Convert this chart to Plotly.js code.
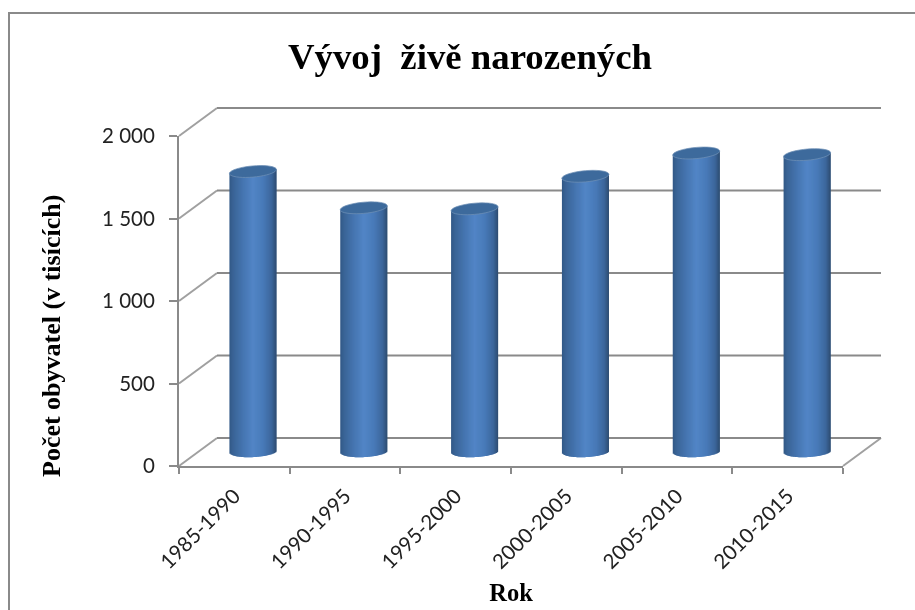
<!DOCTYPE html>
<html>
<head>
<meta charset="utf-8">
<script src="https://cdn.plot.ly/plotly-3.0.1.min.js"></script>
<style>html,body{margin:0;padding:0;background:#fff}#chart{width:915px;height:610px;filter:blur(0.35px)}</style>
</head>
<body>
<div id="chart"></div>
<script>
var categories = ['1985-1990','1990-1995','1995-2000','2000-2005','2005-2010','2010-2015'];
var births = [1697, 1477, 1471, 1668, 1809, 1799];
var tickValues = [0, 500, 1000, 1500, 2000];
var tickLabels = ['0', '500', '1 000', '1 500', '2 000'];
var chartTitle = 'Vývoj\u00a0 živě narozených';
var yTitle = 'Počet obyvatel (v tisících)';
var xTitle = 'Rok';

var W = 915, H = 610;
var frontL = 179, frontR = 843, frontB = 466, frontT = 136;
var depthX = 38, depthY = 28;
var barL = 197.5, barR = 862.5, barZero = 451.5;
var pxPerUnit = (frontB - frontT) / 2000;
var barBottomPad = 100;
var barDomainBottom = barZero + barBottomPad * pxPerUnit;
var barDomainTop = barZero - 2000 * pxPerUnit;
var barPx = 47, catPx = (barR - barL) / 6, ry = 5.6, baseTilt = 1.2, capTilt = 2;

function px(x){ return x / W; }
function py(y){ return 1 - y / H; }
function hex(c){ return 'rgb(' + c.map(Math.round).join(',') + ')'; }
var stops = [[0,[50,88,134]],[0.08,[58,100,150]],[0.3,[70,118,178]],[0.5,[82,133,198]],[0.72,[72,122,184]],[0.9,[60,102,155]],[1,[46,76,112]]];
function shade(t){
  for (var i = 1; i < stops.length; i++) {
    if (t <= stops[i][0]) {
      var a = stops[i-1], b = stops[i], f = (t - a[0]) / (b[0] - a[0]);
      return hex(a[1].map(function(v, k){ return v + (b[1][k] - v) * f; }));
    }
  }
  return hex(stops[stops.length-1][1]);
}

var traces = [{
  type: 'scatter', mode: 'markers', x: categories, y: births, xaxis: 'x', yaxis: 'y',
  marker: {opacity: 0}, showlegend: false, hoverinfo: 'skip', name: 'Živě narození'
}];
for (var s = 0; s < barPx; s++) {
  (function(s){
    var t = (s + 0.5) / barPx, u = 2 * t - 1;
    var below = ry * Math.sqrt(1 - u * u) - baseTilt * u;
    var baseUnits = -below / pxPerUnit;
    var topUnits = capTilt * u / pxPerUnit;
    var stripW = s === barPx - 1 ? 1 : 2;
    traces.push({
      type: 'bar', x: categories,
      y: births.map(function(v){ return v + topUnits - baseUnits; }),
      base: births.map(function(){ return baseUnits; }),
      offset: (-barPx / 2 + s) / catPx, width: stripW / catPx,
      xaxis: 'x2', yaxis: 'y2', marker: {color: shade(t), line: {width: 0}},
      showlegend: false, hoverinfo: 'skip', name: 'Živě narození'
    });
  })(s);
}

var gray = '#8a8a8a';
var shapes = [
  {type:'path', xref:'paper', yref:'paper', layer:'below',
   path:'M ' + px(9) + ' ' + py(610) + ' L ' + px(9) + ' ' + py(13) + ' L ' + px(915) + ' ' + py(13),
   line:{color:gray, width:2}},
  {type:'line', xref:'paper', yref:'paper', layer:'below', x0:px(frontR), y0:py(frontB), x1:px(frontR+depthX), y1:py(frontB-depthY), line:{color:'#a0a0a0', width:2}}
];
tickValues.forEach(function(v){
  var y = frontB - v * pxPerUnit;
  shapes.push({type:'line', xref:'paper', yref:'paper', layer:'below', x0:px(frontL), y0:py(y), x1:px(frontL+depthX), y1:py(y-depthY), line:{color:'#a0a0a0', width:2}});
  shapes.push({type:'line', xref:'paper', yref:'paper', layer:'below', x0:px(frontL+depthX), y0:py(y-depthY), x1:px(frontR+depthX), y1:py(y-depthY), line:{color:gray, width:2}});
});
var capPts = [];
for (var a = 0; a < 40; a++) {
  var ang = a / 40 * 2 * Math.PI;
  var cx = Math.cos(ang) * barPx / 2, cy = Math.sin(ang) * ry;
  capPts.push((a ? 'L ' : 'M ') + cx.toFixed(2) + ' ' + (cy + cx / (barPx / 2) * capTilt).toFixed(2));
}
var capPath = capPts.join(' ') + ' Z';
categories.forEach(function(c, i){
  shapes.push({type:'path', xref:'x2', yref:'y2', xsizemode:'pixel', ysizemode:'pixel',
    xanchor:c, yanchor:births[i], path:capPath, fillcolor:'#3d6a9c', line:{color:'#6f90b5', width:0.75}, layer:'above'});
});

var layout = {
  width: W, height: H, autosize: false, showlegend: false,
  margin: {l:0, r:0, t:0, b:0}, paper_bgcolor:'#fff', plot_bgcolor:'rgba(0,0,0,0)', barmode:'overlay',
  title: {text: chartTitle, x: 470/W, xanchor:'center', y: py(56), yanchor:'middle',
          font:{family:'Liberation Serif', size:36.8, color:'#000', weight:700}},
  xaxis: {domain:[px(frontL), px(frontR)], anchor:'y', type:'category', categoryorder:'array', categoryarray:categories,
          range:[-0.5,5.5], tickson:'boundaries', ticks:'outside', ticklen:6, tickwidth:2, tickcolor:gray,
          showline:true, linecolor:gray, linewidth:2, showgrid:false, zeroline:false, tickangle:-45, ticklabelstandoff:8,
          tickfont:{family:'Lato', size:20.5, color:'#222'},
          title:{text:xTitle, standoff:12, font:{family:'Liberation Serif', size:24.5, color:'#000', weight:700}}},
  yaxis: {domain:[py(frontB), py(frontT)], anchor:'x', range:[0,2000], tickmode:'array', tickvals:tickValues, ticktext:tickLabels,
          ticks:'outside', ticklen:8, tickwidth:2, tickcolor:gray, showline:true, linecolor:gray, linewidth:2,
          showgrid:false, zeroline:false, ticklabelstandoff:10, tickfont:{family:'Lato', size:20.5, color:'#222'}},
  xaxis2: {domain:[px(barL), px(barR)], anchor:'y2', type:'category', categoryorder:'array', categoryarray:categories, range:[-0.5,5.5], visible:false},
  yaxis2: {domain:[py(barDomainBottom), py(barDomainTop)], anchor:'x2', range:[-barBottomPad,2000], visible:false},
  shapes: shapes,
  annotations: [{text:yTitle, xref:'paper', yref:'paper', x:px(51), y:py(336), xanchor:'center', yanchor:'middle', textangle:-90, showarrow:false,
                 font:{family:'Liberation Serif', size:26, color:'#000', weight:700}}]
};
Plotly.newPlot('chart', traces, layout, {displayModeBar:false, staticPlot:true});
</script>
</body>
</html>
